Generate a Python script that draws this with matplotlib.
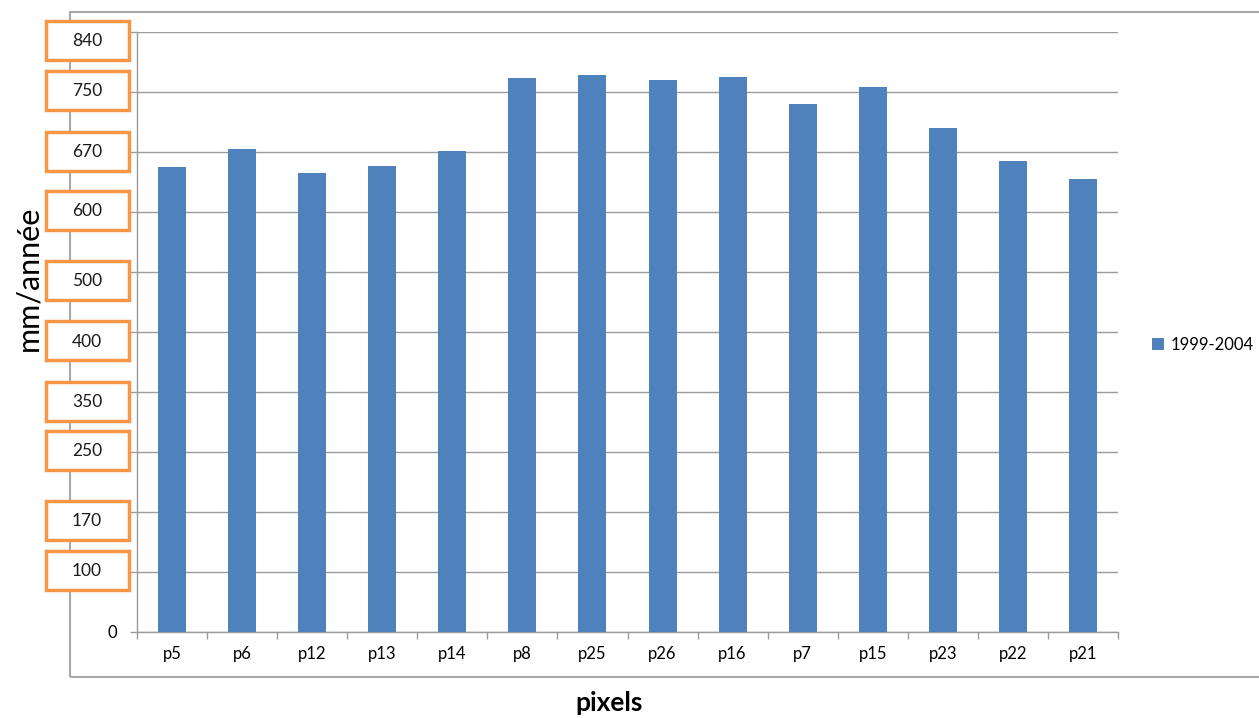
import numpy as np
import matplotlib
matplotlib.use("Agg")
import matplotlib.pyplot as plt
from matplotlib.patches import Rectangle

plt.rcParams['font.family'] = ['Lato', 'DejaVu Sans']

# pluie moyenne annuelle par pixel
pixels = ['p5', 'p6', 'p12', 'p13', 'p14', 'p8', 'p25', 'p26', 'p16', 'p7',
          'p15', 'p23', 'p22', 'p21']
pluie = [652, 674, 646, 654, 672, 771, 775, 768, 773, 734, 757, 702, 660, 639]
serie = '1999-2004'

# graduations de l'axe (espacement non lineaire)
graduations = [0, 100, 170, 250, 350, 400, 500, 600, 670, 750, 840]

W, H = 1259, 718
bleu = '#4F81BD'
orange = '#F79646'
gris = '#9A9A9A'

# decalage vertical des etiquettes encadrees (pixels, vers le bas)
decalage = [0, -1.5, 8.5, -1.5, 9, 8.5, 8.5, -1.5, -1, -2, 8.5]


def fwd(v):
    return np.interp(v, graduations, np.arange(len(graduations)))


def inv(u):
    return np.interp(u, np.arange(len(graduations)), graduations)


fig = plt.figure(figsize=(W / 100, H / 100), dpi=100)
ax = fig.add_axes([137 / W, (H - 632) / H, (1118 - 137) / W, 600 / H])

x = np.arange(len(pixels))
ax.bar(x, pluie, width=0.4, color=bleu, label=serie, zorder=3)

ax.set_yscale('function', functions=(fwd, inv))
ax.set_ylim(0, 840)
ax.set_xlim(-0.5, len(pixels) - 0.5)
ax.set_yticks(graduations)
ax.set_yticklabels(['0'] + [''] * (len(graduations) - 1))
ax.grid(axis='y', color=gris, linewidth=1, zorder=0)

ax.set_xticks(x)
ax.set_xticklabels(pixels)
ax.set_xticks(np.arange(-0.5, len(pixels)), minor=True)
ax.tick_params(axis='x', which='major', length=0, pad=10, labelsize=12)
ax.tick_params(axis='x', which='minor', length=5, width=1, color=gris, direction='out')
ax.tick_params(axis='y', length=5, width=1, color=gris, pad=9, labelsize=12)

for s in ['top', 'right']:
    ax.spines[s].set_visible(False)
for s in ['left', 'bottom']:
    ax.spines[s].set_color(gris)
    ax.spines[s].set_linewidth(1)

# etiquettes encadrees en orange
for val, dy in zip(graduations[1:], decalage[1:]):
    yp = ax.transData.transform((0, val))[1] - dy
    h = 39
    fig.add_artist(Rectangle((46 / W, (yp - h / 2) / H), 83 / W, h / H,
                             transform=fig.transFigure, facecolor='white',
                             edgecolor=orange, linewidth=2.5, zorder=5))
    fig.text(87 / W, (yp - 6) / H, str(val), ha='center', va='baseline',
             fontsize=12.5, color='#1a1a1a', zorder=6)

# cadre du graphique
fig.add_artist(Rectangle((70 / W, (H - 677) / H), 1.2, 665 / H,
                         transform=fig.transFigure, facecolor='none',
                         edgecolor='#A8A8A8', linewidth=1.5, zorder=0))

fig.text(28 / W, 1 - 278 / H, 'mm/année', rotation=90, ha='center',
         va='center', fontsize=22)
fig.text(609 / W, 1 - 703 / H, 'pixels', ha='center', va='center',
         fontsize=19, fontweight='bold')

fig.legend(loc='center left', bbox_to_anchor=(1144 / W, 1 - 345 / H),
           frameon=False, fontsize=12, handlelength=0.7, handleheight=0.7,
           handletextpad=0.4, borderpad=0)

fig.savefig('out.png', dpi=100)
